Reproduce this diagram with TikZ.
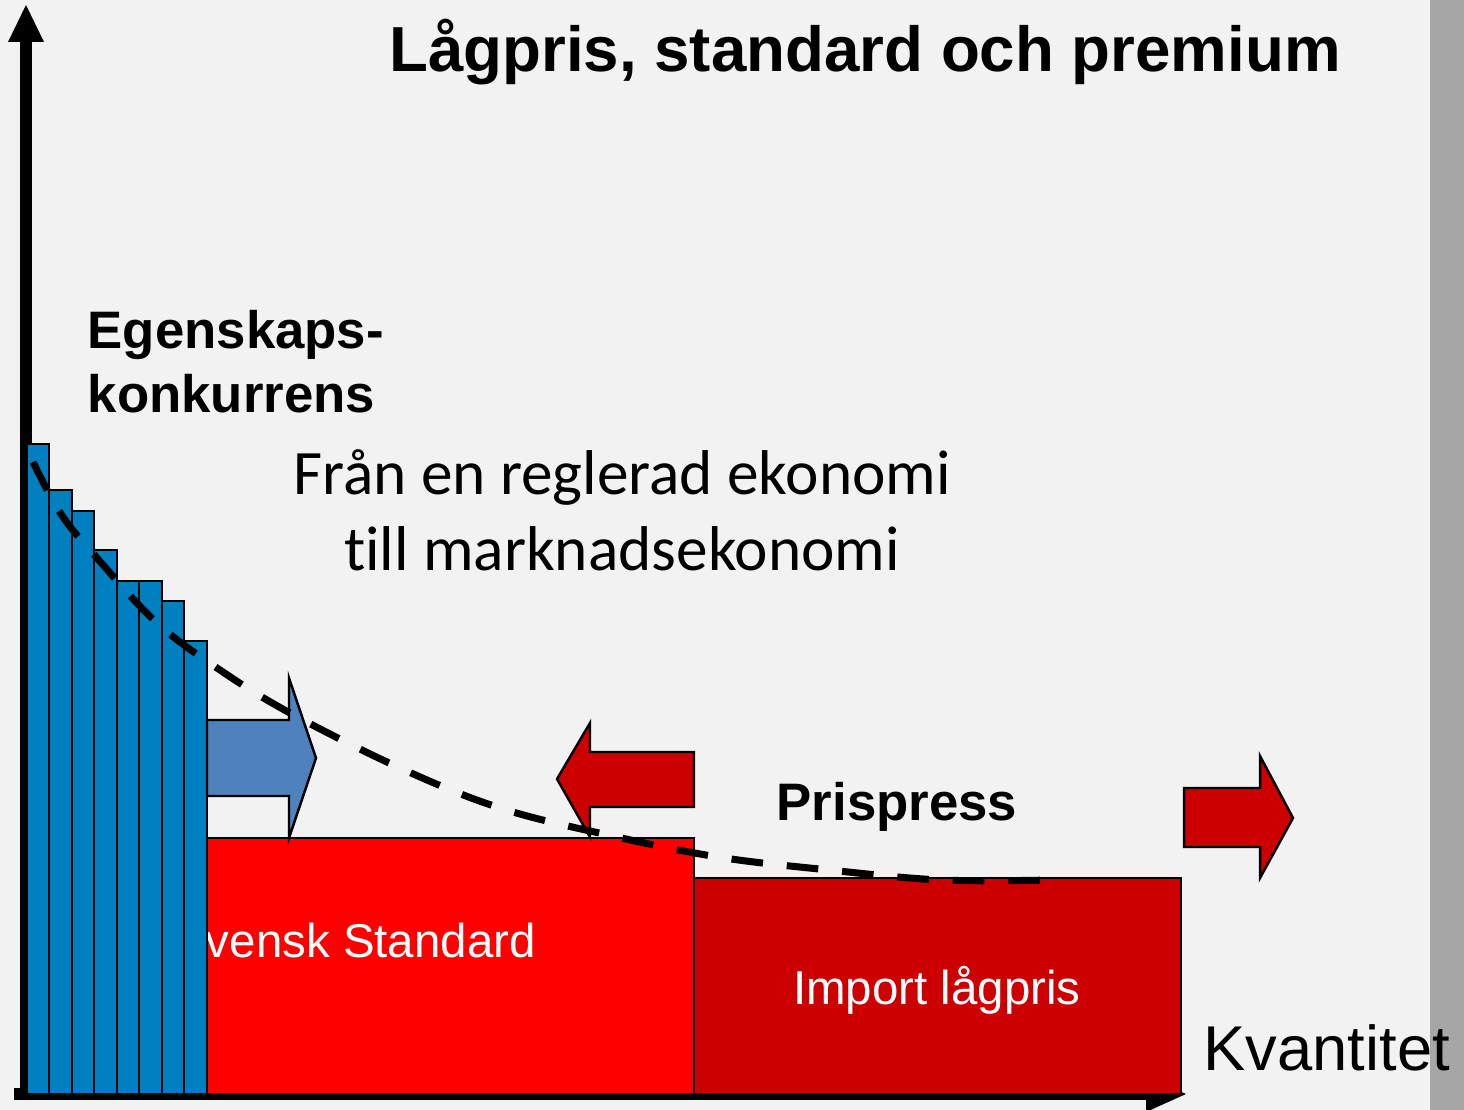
\documentclass[tikz,border=0pt]{standalone}
\usepackage{fontspec}
\setmainfont{Liberation Sans}
\newfontfamily\bodyfont[Ligatures=NoCommon]{Carlito}
\usetikzlibrary{calc}

\definecolor{slide}{HTML}{F2F2F2}
\definecolor{edge}{HTML}{A6A6A6}
\definecolor{barblue}{HTML}{0080C0}
\definecolor{arrowblue}{HTML}{4F81BD}
\definecolor{stdred}{HTML}{FF0000}
\definecolor{lowred}{HTML}{CC0000}

\begin{document}
\begin{tikzpicture}[x=0.01cm,y=-0.01cm]

        \tikzstyle{every node}=[inner sep=0pt,align=center]
        \tikzstyle{bar}=[draw=black,line width=0.6pt,fill=barblue]
        \tikzstyle{block}=[draw=black,line width=0.7pt]
        \tikzstyle{axis}=[line width=3.4pt]

        \fill[slide] (0,0) rectangle (1430,1110);
        \fill[edge] (1430,0) rectangle (1464,1110);
        \useasboundingbox (0,0) rectangle (1464,1110);

        \coordinate (origin) at (26,1094);
        \coordinate (ytop) at (26,42);
        \coordinate (xend) at (1150,1094);
        \draw[axis] ($(origin)+(0,6)$) -- (ytop);
        \fill (8,42) -- (26,5) -- (44,42) -- cycle;
        \draw[axis] ($(origin)+(-12,0)$) -- (xend);
        \fill (1146,1076) -- (1186,1094) -- (1146,1112) -- cycle;

        \draw[block,fill=stdred] (207,838) rectangle (694,1094);
        \node[anchor=base,text=white,font=\fontsize{13.5}{16}\selectfont] (std) at (355,957) {Svensk Standard};
        \draw[block,fill=lowred] (694,878) rectangle (1181,1094);
        \node[anchor=base,text=white,font=\fontsize{13.5}{16}\selectfont] (imp) at (937,1004) {Import lågpris};

        \foreach \i / \t in {0/444,1/490,2/511,3/550,4/581,5/581,6/601,7/641} {
            \draw[bar] ({26.7+\i*22.5},\t) rectangle ({26.7+(\i+1)*22.5},1094);
        }

        \draw[block,fill=arrowblue] (207,720) -- (289,720) -- (289,678) -- (316,758) -- (289,838) -- (289,796) -- (207,796) -- cycle;
        \draw[block,fill=lowred] (694,752) -- (590,752) -- (590,723) -- (557,779) -- (590,837) -- (590,807) -- (694,807) -- cycle;
        \draw[block,fill=lowred] (1184,788) -- (1260,788) -- (1260,756) -- (1293,818) -- (1260,878) -- (1260,847) -- (1184,847) -- cycle;

        \draw[line width=2pt,dash pattern=on 9pt off 6.8pt] plot[smooth,tension=0.6] coordinates {(33,462) (61,514) (97,558) (157,623) (220,670) (290,713) (400,768) (500,808) (608,835) (718,857) (829,870) (941,880) (1052,880)};

        \node[anchor=base,font=\fontsize{18.1}{21}\selectfont\bfseries] (title) at (865,72) {Lågpris, standard och premium};
        \node[anchor=north west,align=left,font=\fontsize{15}{18.1}\selectfont\bfseries] (quality) at (87,310) {Egenskaps-\\konkurrens};
        \node[anchor=north,font=\bodyfont\fontsize{18}{21.5}\selectfont] (shift) at (622,449) {Från en reglerad ekonomi\\till marknadsekonomi};
        \node[anchor=base west,font=\fontsize{15}{18}\selectfont\bfseries] (press) at (776,820) {Prispress};
        \node[anchor=base west,font=\fontsize{18}{22}\selectfont] (qty) at (1203,1070) {Kvantitet};

    \end{tikzpicture}
\end{document}
